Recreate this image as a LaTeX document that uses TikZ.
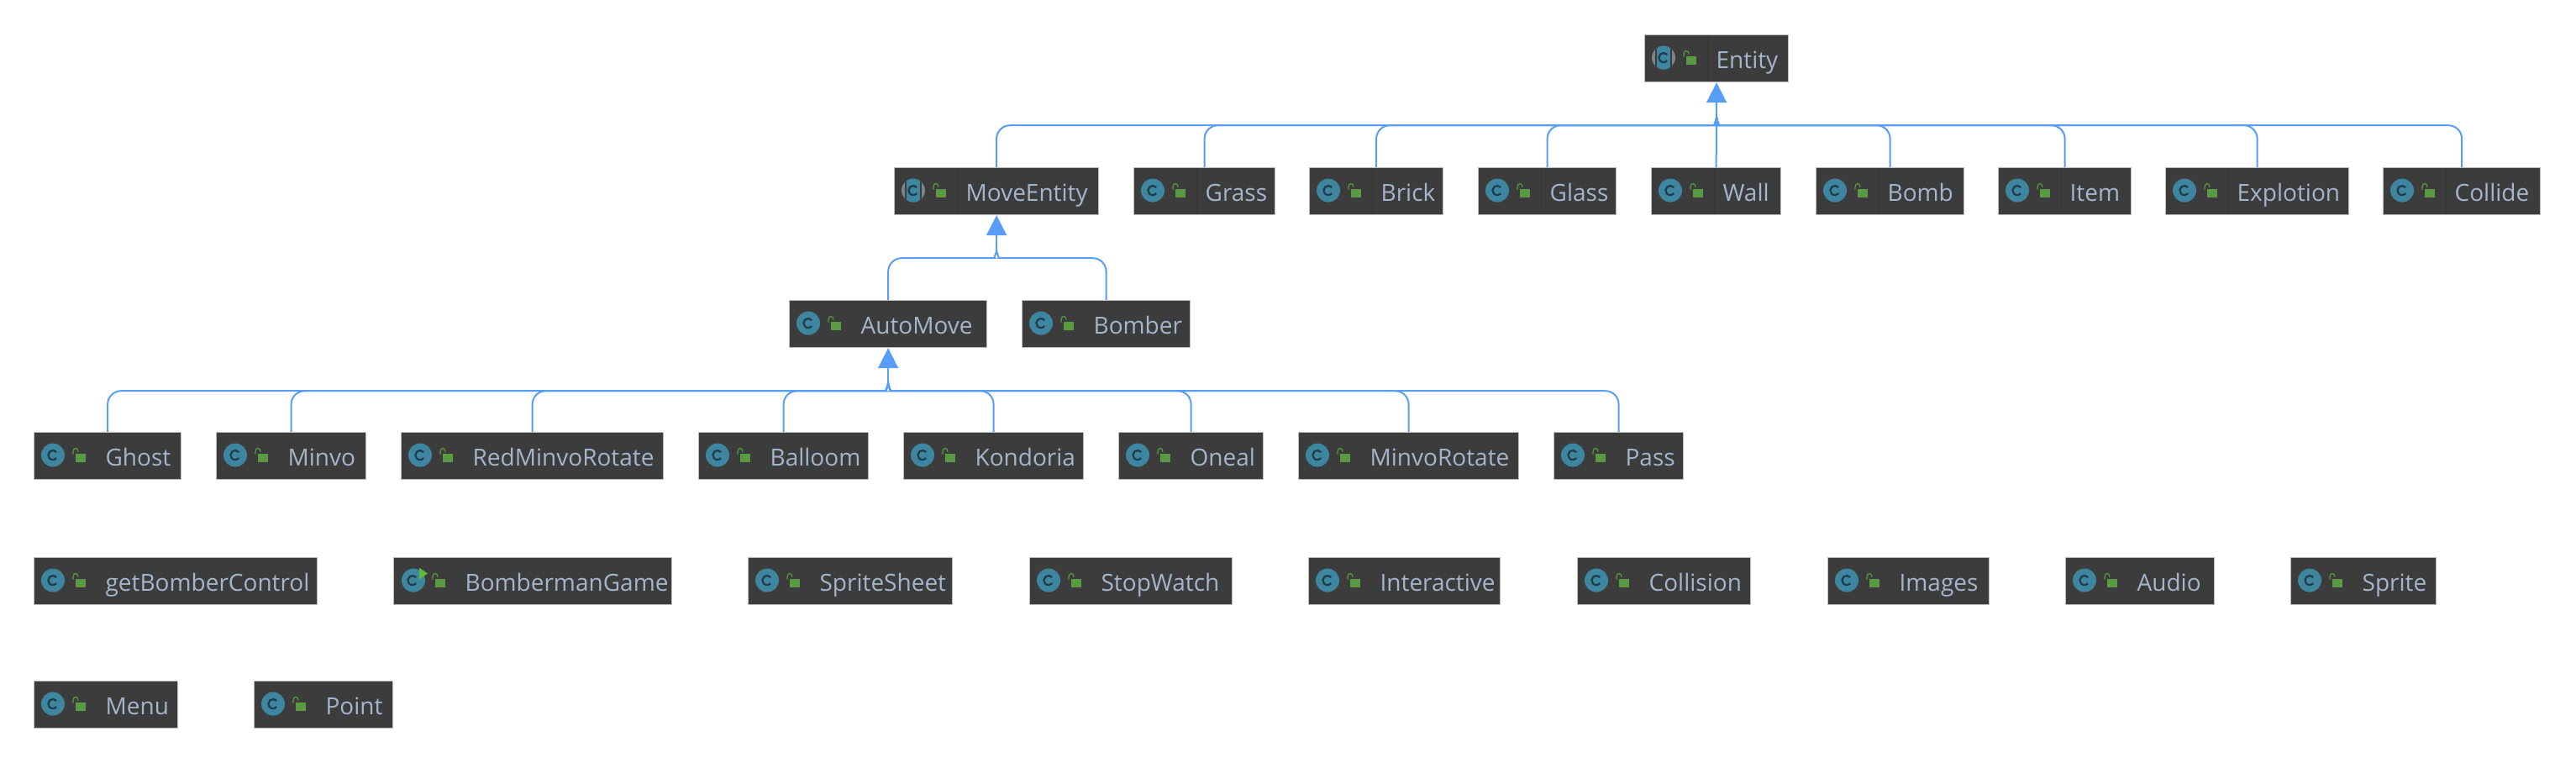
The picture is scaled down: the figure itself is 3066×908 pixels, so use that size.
\documentclass[tikz,border=0pt]{standalone}
\usepackage{fontspec}
\setmainfont{Open Sans}
\usetikzlibrary{arrows.meta,calc}

\definecolor{boxfill}{HTML}{3C3C3C}
\definecolor{boxedge}{HTML}{BDBDBD}
\definecolor{boxtext}{HTML}{A5B5CC}
\definecolor{boxsep}{HTML}{363636}
\definecolor{iconteal}{HTML}{3E86A0}
\definecolor{icondark}{HTML}{1F3C4C}
\definecolor{icongrey}{HTML}{7F8487}
\definecolor{lockgreen}{HTML}{599A42}
\definecolor{rungreen}{HTML}{5DB83C}
\definecolor{linkblue}{HTML}{589DF6}

\newcommand{\classnode}[5][classicon]{
   \node[classbox=#5] (#2) at (#3,#4) {#2};
   \pic at (#2.west) {#1};
}
\newcommand{\leftlink}[2]{
   \draw[linkline, rounded corners=8pt] (#1.north) |- ($(#2join)+(-18,10)$) [sharp corners] .. controls ($(#2join)+(-4,10)$) and ($(#2join)+(0,5)$) .. (#2join);
}
\newcommand{\rightlink}[2]{
   \draw[linkline, rounded corners=8pt] (#1.north) |- ($(#2join)+(18,10)$) [sharp corners] .. controls ($(#2join)+(4,10)$) and ($(#2join)+(0,5)$) .. (#2join);
}

\begin{document}
\begin{tikzpicture}[x=0.5pt, y=-0.5pt]
   \tikzset{
      classbox/.style={draw=boxedge, line width=0.6pt, fill=boxfill, text=boxtext, anchor=north west,
         minimum height=28pt, minimum width=#1*0.5pt, text width=#1*0.5pt, inner xsep=0pt, inner ysep=0pt,
         align=left, font=\fontsize{14}{16}\selectfont, text height=13pt, text depth=1pt,
         execute at begin node=\hspace*{42.5pt}},
      linkline/.style={draw=linkblue, line width=1pt},
      linktip/.style={linkline, -{Triangle[length=12pt, width=12pt, fill=linkblue]}},
      sepline/.style={draw=boxsep, line width=0.5pt},
      padlock/.pic={
         \fill[lockgreen] (50,-3) rectangle (62,7);
         \draw[lockgreen, line width=0.6pt] (47,-2) -- (47,-5) .. controls (47,-10.5) and (53,-10.5) .. (53,-5);
      },
      letterc/.pic={
         \draw[icondark, line width=1.1pt] (23,-1) ++(40:2.8pt) arc[start angle=40, end angle=320, radius=2.8pt];
      },
      classicon/.pic={
         \fill[iconteal] (23,-1) circle[radius=7pt];
         \pic {letterc};
         \pic {padlock};
      },
      abstracticon/.pic={
         \fill[icongrey] (23,-1) circle[radius=7pt];
         \begin{scope}
            \clip (23,-1) circle[radius=7pt];
            \fill[boxfill] (13,-16) rectangle (33,14);
            \fill[iconteal] (15,-16) rectangle (31,14);
         \end{scope}
         \pic {letterc};
         \pic {padlock};
      },
      runicon/.pic={
         \fill[iconteal] (24,-1) circle[radius=7pt];
         \pic {letterc};
         \fill[rungreen] (31,-16) -- (41,-9) -- (31,-2) -- cycle;
         \pic {padlock};
      }
   }

\useasboundingbox (0,0) rectangle (3066,908);

\classnode[abstracticon]{Entity}{1957}{41}{171}

\classnode[abstracticon]{MoveEntity}{1064}{199}{243}
\classnode{Grass}{1349}{199}{168}
\classnode{Brick}{1558}{199}{159}
\classnode{Glass}{1759}{199}{164}
\classnode{Wall}{1965}{199}{154}
\classnode{Bomb}{2161}{199}{176}
\classnode{Item}{2378}{199}{158}
\classnode{Explotion}{2577}{199}{218}
\classnode{Collide}{2836}{199}{187}

\classnode{AutoMove}{939}{357}{235}
\classnode{Bomber}{1216}{357}{200}

\classnode{Ghost}{40}{514}{175}
\classnode{Minvo}{257}{514}{178}
\classnode{RedMinvoRotate}{477}{514}{312}
\classnode{Balloom}{831}{514}{202}
\classnode{Kondoria}{1075}{514}{214}
\classnode{Oneal}{1331}{514}{172}
\classnode{MinvoRotate}{1545}{514}{262}
\classnode{Pass}{1849}{514}{154}

\classnode{getBomberControl}{40}{663}{337}
\classnode[runicon]{BombermanGame}{468}{663}{331}
\classnode{SpriteSheet}{890}{663}{243}
\classnode{StopWatch}{1225}{663}{241}
\classnode{Interactive}{1557}{663}{228}
\classnode{Collision}{1877}{663}{206}
\classnode{Images}{2175}{663}{192}
\classnode{Audio}{2458}{663}{177}
\classnode{Sprite}{2726}{663}{173}

\classnode{Menu}{40}{810}{171}
\classnode{Point}{302}{810}{165}

\foreach \n in {Entity,MoveEntity,Grass,Brick,Glass,Wall,Bomb,Item,Explotion,Collide}
   \draw[sepline] ($(\n.north west)+(75,1)$) -- ($(\n.south west)+(75,-1)$);

\coordinate (Entityjoin) at ($(Entity.south)+(0,41)$);
\coordinate (MoveEntityjoin) at ($(MoveEntity.south)+(0,41)$);
\coordinate (AutoMovejoin) at ($(AutoMove.south)+(0,41)$);

\draw[linktip] (Entityjoin) -- (Entity.south);
\draw[linktip] (MoveEntityjoin) -- (MoveEntity.south);
\draw[linktip] (AutoMovejoin) -- (AutoMove.south);

\leftlink{MoveEntity}{Entity}
\leftlink{Grass}{Entity}
\leftlink{Brick}{Entity}
\leftlink{Glass}{Entity}
\draw[linkline] (Wall.north) -- (Entityjoin);
\rightlink{Bomb}{Entity}
\rightlink{Item}{Entity}
\rightlink{Explotion}{Entity}
\rightlink{Collide}{Entity}

\leftlink{AutoMove}{MoveEntity}
\rightlink{Bomber}{MoveEntity}

\leftlink{Ghost}{AutoMove}
\leftlink{Minvo}{AutoMove}
\leftlink{RedMinvoRotate}{AutoMove}
\leftlink{Balloom}{AutoMove}
\rightlink{Kondoria}{AutoMove}
\rightlink{Oneal}{AutoMove}
\rightlink{MinvoRotate}{AutoMove}
\rightlink{Pass}{AutoMove}

\end{tikzpicture}
\end{document}
